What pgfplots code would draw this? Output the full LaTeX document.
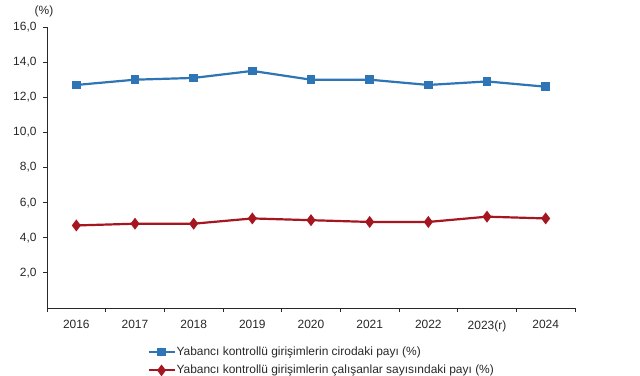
\documentclass[border=0pt]{standalone}
\usepackage{pgfplots}
\pgfplotsset{compat=1.18}
\usepackage{fontspec}
\setmainfont{Liberation Sans}
\definecolor{cblue}{RGB}{46,117,182}
\definecolor{cred}{RGB}{165,22,32}
\definecolor{axgray}{RGB}{40,40,40}
\begin{document}
\begin{tikzpicture}[x=1bp,y=1bp]
\path[use as bounding box] (0,0) rectangle (640,375);
\node[font=\fontsize{12}{14}\selectfont, text=axgray] at (44,364) {(\%)};
\begin{axis}[
  at={(47bp,67bp)}, anchor=south west,
  scale only axis, width=528bp, height=281bp,
  xmin=-0.5, xmax=8.5, ymin=0, ymax=16,
  axis x line*=bottom, axis y line*=left,
  axis line style={axgray, line width=0.8pt},
  xtick={0,...,8},
  xticklabels={2016,2017,2018,2019,2020,2021,2022,2023(r),2024},
  minor xtick={-0.5,0.5,...,8.5},
  ytick={2,4,...,16},
  tick align=outside,
  x tick style={draw=none},
  minor x tick style={draw=axgray, line width=0.8pt},
  minor tick length=4bp,
  y tick style={axgray, line width=0.8pt},
  major tick length=4bp,
  ticklabel style={font=\fontsize{12}{14}\selectfont, text=axgray},
  xticklabel style={yshift=-5bp},
  yticklabel style={xshift=-3bp},
  /pgf/number format/.cd, fixed, fixed zerofill, precision=1, use comma, assume math mode=true,
  /pgfplots/.cd,
  legend style={at={(0.19,-0.135)}, anchor=north west, draw=none, fill=none,
    font=\fontsize{12}{14}\selectfont, text=axgray, row sep=6bp,
    inner sep=0pt, nodes={inner sep=1pt}},
  legend cell align=left,
  legend image code/.code={\draw[line width=2bp, mark repeat=2,mark phase=2] plot coordinates {(0bp,0bp)(13bp,0bp)(26bp,0bp)};},
  clip=false,
]
\addplot[cblue, line width=2.2bp, mark=square*, mark size=3.2bp, mark options={solid}]
  coordinates {(0,12.7)(1,13.0)(2,13.1)(3,13.5)(4,13.0)(5,13.0)(6,12.7)(7,12.9)(8,12.6)};
\addlegendentry{Yabancı kontrollü girişimlerin cirodaki payı (\%)}
\addplot[cred, line width=2.2bp, mark=diamond*, mark size=4.2bp, mark options={solid}]
  coordinates {(0,4.7)(1,4.8)(2,4.8)(3,5.1)(4,5.0)(5,4.9)(6,4.9)(7,5.2)(8,5.1)};
\addlegendentry{Yabancı kontrollü girişimlerin çalışanlar sayısındaki payı (\%)}
\end{axis}
\end{tikzpicture}
\end{document}
